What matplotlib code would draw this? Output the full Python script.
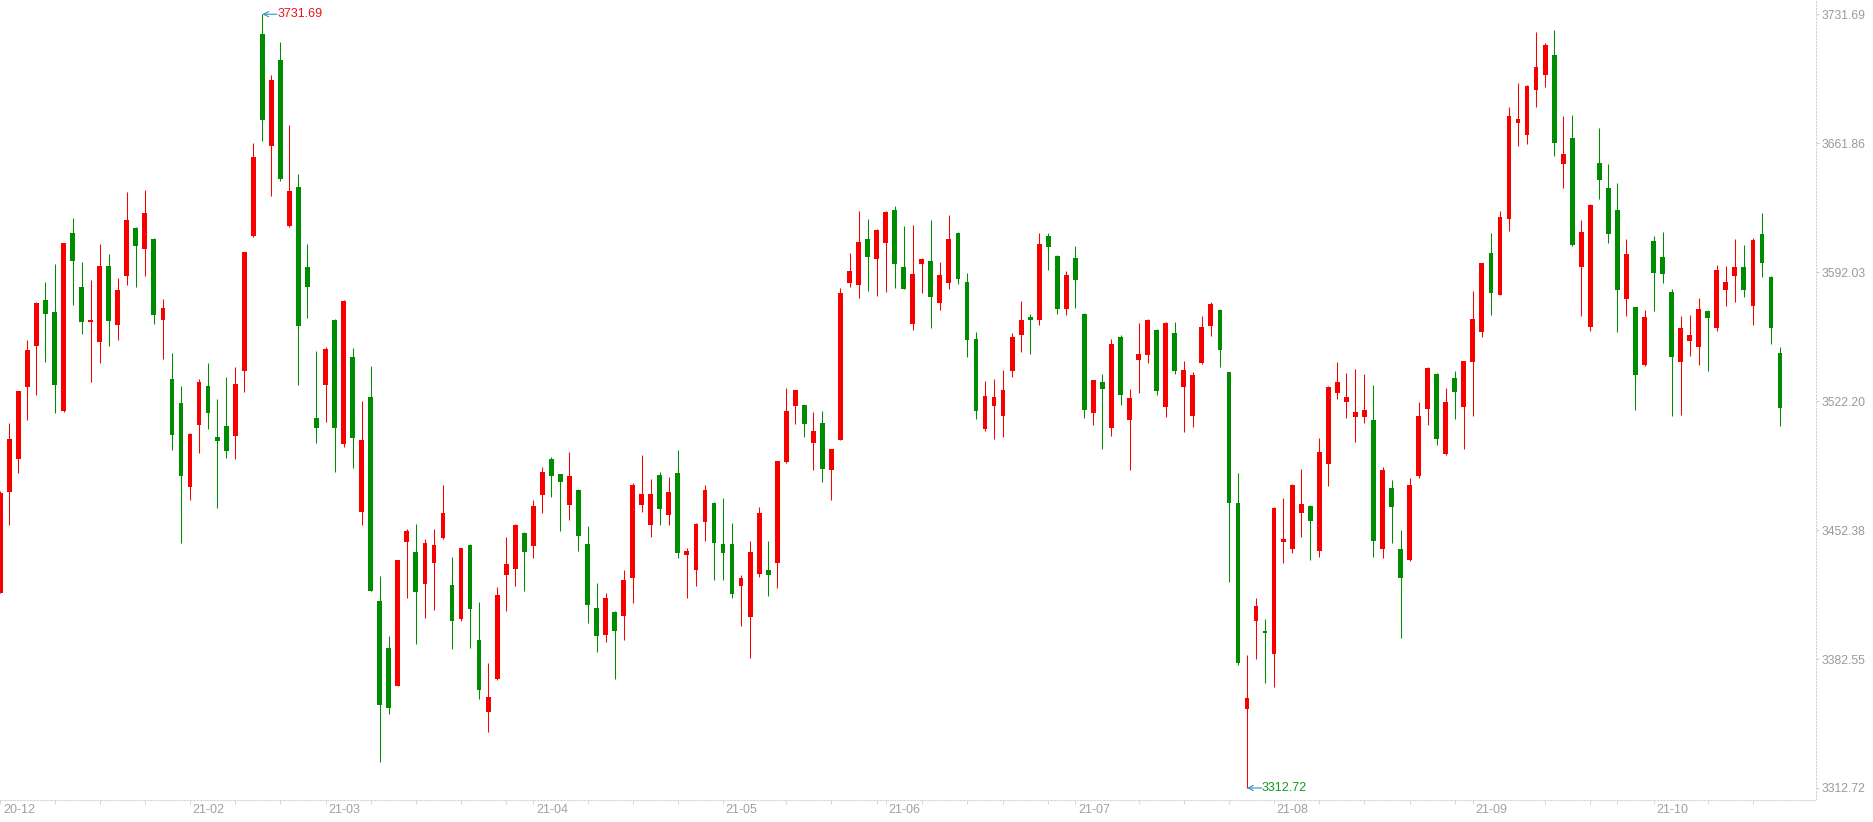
import matplotlib
matplotlib.use("Agg")
import matplotlib.pyplot as plt
import numpy as np

plt.rcParams['font.family'] = ['Liberation Sans', 'DejaVu Sans']

opens = [3418.2, 3473.2, 3490.8, 3530.1, 3551.8, 3577.1, 3570.6, 3517.0, 3613.0, 3583.9,
 3565.3, 3554.0, 3595.6, 3563.2, 3589.9, 3616.1, 3604.4, 3610.1, 3566.3, 3534.1,
 3521.0, 3475.5, 3509.3, 3530.4, 3502.5, 3508.5, 3503.4, 3538.4, 3611.8, 3720.9,
 3660.5, 3706.9, 3617.0, 3638.3, 3595.0, 3513.3, 3530.7, 3566.3, 3498.8, 3546.1,
 3462.1, 3524.4, 3413.9, 3388.6, 3368.1, 3445.9, 3440.7, 3423.1, 3434.5, 3448.1,
 3422.8, 3404.3, 3444.4, 3392.9, 3353.6, 3371.6, 3427.9, 3431.3, 3451.0, 3443.6,
 3471.5, 3490.6, 3482.6, 3466.1, 3474.3, 3445.0, 3410.3, 3395.5, 3408.0, 3405.7,
 3426.2, 3466.1, 3455.0, 3482.0, 3460.7, 3483.2, 3438.7, 3430.8, 3456.7, 3467.2,
 3445.0, 3445.0, 3421.9, 3405.2, 3428.5, 3431.0, 3434.5, 3489.1, 3519.6, 3519.9,
 3499.7, 3510.2, 3484.9, 3501.4, 3585.9, 3584.8, 3610.1, 3599.0, 3607.6, 3625.8,
 3595.0, 3564.0, 3596.2, 3598.2, 3575.4, 3586.2, 3613.3, 3586.8, 3555.7, 3507.1,
 3519.3, 3513.9, 3538.4, 3558.0, 3567.7, 3566.3, 3611.8, 3601.0, 3572.0, 3599.9,
 3569.4, 3515.9, 3532.4, 3507.4, 3556.8, 3511.7, 3544.6, 3546.9, 3560.8, 3518.8,
 3559.1, 3530.1, 3514.2, 3542.6, 3563.1, 3571.6, 3537.8, 3467.1, 3355.3, 3403.3,
 3397.6, 3385.1, 3446.1, 3442.1, 3461.5, 3465.4, 3441.3, 3488.4, 3526.7, 3521.9,
 3513.7, 3513.7, 3512.0, 3441.9, 3475.1, 3442.1, 3436.2, 3481.6, 3517.7, 3536.9,
 3493.8, 3534.7, 3518.8, 3543.5, 3559.4, 3602.2, 3579.8, 3621.0, 3672.9, 3666.4,
 3690.8, 3699.0, 3709.5, 3650.8, 3664.7, 3594.6, 3562.5, 3651.1, 3637.4, 3625.5,
 3577.3, 3573.0, 3541.5, 3608.8, 3600.3, 3581.2, 3543.2, 3554.5, 3551.7, 3571.0,
 3561.9, 3582.6, 3589.7, 3594.9, 3573.8, 3612.8, 3589.5, 3548.3]

highs = [3473.5, 3510.2, 3527.6, 3555.2, 3575.8, 3586.8, 3596.5, 3607.9, 3621.5, 3597.6,
 3587.9, 3607.3, 3601.9, 3589.1, 3635.2, 3616.5, 3636.3, 3610.5, 3577.7, 3548.4,
 3530.4, 3504.8, 3534.4, 3542.9, 3523.3, 3535.2, 3540.7, 3603.0, 3661.7, 3731.69,
 3698.7, 3716.6, 3671.6, 3644.9, 3607.3, 3549.2, 3551.5, 3566.6, 3576.8, 3550.9,
 3522.1, 3541.2, 3427.6, 3395.2, 3436.2, 3452.7, 3455.8, 3447.3, 3452.7, 3476.9,
 3437.9, 3442.7, 3444.7, 3413.4, 3380.4, 3421.7, 3448.4, 3455.8, 3451.3, 3468.4,
 3486.3, 3492.0, 3482.9, 3494.5, 3474.6, 3454.4, 3423.9, 3418.5, 3408.3, 3431.0,
 3477.7, 3492.8, 3479.8, 3483.7, 3480.9, 3495.7, 3442.4, 3456.1, 3476.6, 3467.5,
 3469.5, 3456.4, 3428.2, 3446.7, 3464.6, 3446.4, 3490.0, 3529.3, 3528.4, 3520.2,
 3516.2, 3516.8, 3496.5, 3583.7, 3602.4, 3625.2, 3621.0, 3615.2, 3624.9, 3628.1,
 3617.2, 3617.8, 3599.6, 3620.4, 3597.6, 3623.2, 3613.6, 3591.6, 3559.7, 3533.0,
 3534.1, 3538.9, 3559.2, 3576.5, 3569.4, 3613.3, 3613.3, 3601.3, 3592.5, 3606.4,
 3569.7, 3533.8, 3536.7, 3556.0, 3558.0, 3528.7, 3564.5, 3566.8, 3561.1, 3565.1,
 3565.1, 3543.8, 3537.8, 3568.2, 3575.8, 3571.9, 3538.1, 3483.3, 3384.8, 3415.5,
 3404.1, 3464.6, 3470.0, 3477.1, 3485.3, 3465.7, 3502.0, 3530.2, 3543.5, 3537.2,
 3539.5, 3536.9, 3531.0, 3486.4, 3479.3, 3452.3, 3480.8, 3521.6, 3540.4, 3537.2,
 3529.3, 3538.4, 3544.1, 3581.8, 3597.2, 3613.3, 3625.2, 3681.2, 3694.5, 3693.1,
 3722.0, 3716.0, 3723.2, 3676.6, 3677.2, 3620.1, 3628.9, 3670.1, 3650.5, 3640.3,
 3609.9, 3573.3, 3571.6, 3611.6, 3613.6, 3582.9, 3568.2, 3568.7, 3578.1, 3571.3,
 3596.0, 3595.4, 3609.9, 3606.8, 3610.5, 3624.1, 3589.8, 3551.4]

lows = [3418.2, 3455.3, 3483.2, 3512.2, 3525.6, 3543.5, 3515.9, 3516.5, 3574.5, 3558.6,
 3532.7, 3542.9, 3551.8, 3555.5, 3584.8, 3584.2, 3590.2, 3563.7, 3545.2, 3495.9,
 3445.3, 3468.6, 3494.3, 3507.1, 3464.4, 3491.4, 3490.8, 3527.3, 3611.3, 3663.1,
 3633.2, 3641.5, 3616.5, 3530.7, 3567.4, 3499.6, 3511.1, 3484.0, 3497.4, 3486.0,
 3454.9, 3419.3, 3326.6, 3353.0, 3367.8, 3415.7, 3390.9, 3404.6, 3408.9, 3447.8,
 3387.8, 3402.9, 3388.3, 3360.7, 3343.1, 3371.3, 3408.3, 3421.9, 3419.4, 3437.0,
 3461.5, 3470.3, 3451.8, 3457.8, 3441.0, 3402.3, 3386.1, 3391.5, 3371.6, 3392.6,
 3412.8, 3462.1, 3448.7, 3455.0, 3455.0, 3437.0, 3415.7, 3421.9, 3446.4, 3425.4,
 3425.4, 3415.4, 3400.6, 3383.2, 3427.1, 3416.8, 3420.8, 3488.6, 3509.9, 3502.8,
 3484.9, 3478.3, 3468.6, 3501.1, 3583.9, 3578.2, 3581.6, 3579.1, 3581.1, 3583.7,
 3582.8, 3560.6, 3580.8, 3561.7, 3571.7, 3583.1, 3585.7, 3546.1, 3512.5, 3505.9,
 3501.7, 3502.8, 3535.2, 3548.9, 3547.8, 3563.4, 3593.3, 3569.4, 3568.6, 3572.8,
 3513.0, 3509.1, 3496.0, 3503.4, 3520.2, 3484.7, 3526.7, 3542.6, 3525.3, 3513.7,
 3536.9, 3505.7, 3508.0, 3542.3, 3557.7, 3540.9, 3424.0, 3379.4, 3312.72, 3382.3,
 3369.8, 3367.2, 3434.8, 3440.2, 3448.7, 3436.2, 3437.9, 3476.2, 3523.6, 3512.8,
 3500.0, 3510.6, 3437.6, 3437.0, 3445.3, 3394.2, 3435.6, 3480.5, 3509.4, 3498.6,
 3492.9, 3512.3, 3496.1, 3514.3, 3557.1, 3569.0, 3579.5, 3614.5, 3660.4, 3661.6,
 3681.2, 3692.5, 3654.8, 3637.7, 3606.2, 3568.5, 3560.0, 3631.8, 3607.6, 3559.4,
 3568.5, 3517.6, 3541.2, 3571.0, 3586.1, 3514.2, 3514.8, 3546.6, 3541.8, 3538.7,
 3560.0, 3573.8, 3576.1, 3578.4, 3563.6, 3589.2, 3552.9, 3508.8]

closes = [3472.3, 3501.7, 3527.6, 3549.8, 3575.4, 3569.1, 3530.7, 3607.9, 3597.9, 3564.9,
 3566.2, 3595.6, 3565.4, 3582.5, 3620.4, 3606.1, 3623.8, 3568.6, 3572.5, 3503.9,
 3481.7, 3504.2, 3532.8, 3515.6, 3500.8, 3495.4, 3531.3, 3603.0, 3654.5, 3674.5,
 3695.8, 3642.2, 3635.8, 3563.1, 3584.2, 3507.6, 3550.3, 3507.4, 3576.5, 3502.2,
 3501.1, 3419.6, 3357.9, 3356.2, 3435.9, 3452.1, 3418.8, 3445.6, 3444.4, 3461.8,
 3402.9, 3442.4, 3409.9, 3365.6, 3361.9, 3417.4, 3434.2, 3455.3, 3440.5, 3465.2,
 3483.7, 3481.7, 3478.3, 3481.4, 3449.0, 3411.7, 3394.9, 3415.7, 3397.5, 3425.4,
 3476.6, 3471.8, 3471.8, 3463.8, 3473.2, 3439.9, 3441.3, 3455.8, 3473.8, 3445.3,
 3439.9, 3417.7, 3426.5, 3440.7, 3461.8, 3427.9, 3489.7, 3516.8, 3528.1, 3509.9,
 3505.9, 3485.4, 3496.0, 3580.8, 3592.8, 3608.4, 3600.2, 3614.9, 3624.4, 3596.2,
 3583.1, 3591.1, 3599.0, 3578.5, 3590.5, 3610.1, 3588.5, 3555.2, 3516.8, 3525.0,
 3524.4, 3528.1, 3556.9, 3566.0, 3566.0, 3607.0, 3605.6, 3572.3, 3590.5, 3587.6,
 3517.6, 3533.5, 3529.0, 3553.2, 3525.3, 3523.9, 3547.7, 3566.2, 3527.9, 3564.5,
 3538.7, 3538.9, 3536.4, 3562.2, 3574.7, 3550.0, 3466.8, 3380.3, 3361.5, 3411.0,
 3396.7, 3464.3, 3447.5, 3476.8, 3466.6, 3457.5, 3494.7, 3529.9, 3532.4, 3524.5,
 3516.2, 3517.4, 3446.7, 3484.7, 3465.1, 3426.5, 3476.8, 3514.0, 3540.1, 3501.5,
 3521.6, 3527.3, 3543.8, 3566.5, 3596.9, 3580.9, 3621.8, 3676.6, 3674.9, 3692.8,
 3703.0, 3714.9, 3662.1, 3655.9, 3606.5, 3613.6, 3628.4, 3641.7, 3612.5, 3582.1,
 3601.7, 3536.1, 3567.6, 3591.7, 3591.2, 3546.3, 3561.7, 3558.0, 3572.2, 3567.3,
 3593.2, 3586.6, 3594.9, 3582.1, 3609.3, 3597.1, 3561.9, 3518.2]

month_tick_idx = [0, 21, 36, 59, 80, 98, 119, 141, 163, 183]
month_labels = ['20-12', '21-02', '21-03', '21-04', '21-05', '21-06', '21-07', '21-08', '21-09', '21-10']
week_tick_idx = [6, 11, 16, 26, 31, 41, 46, 51, 56, 65, 70, 75, 87, 92, 97, 102, 107, 111, 116,
                 126, 131, 136, 146, 151, 156, 161, 171, 176, 179, 189, 194]
y_ticks = [3312.72, 3382.55, 3452.38, 3522.20, 3592.03, 3661.86, 3731.69]

UP = '#f70000'
DOWN = '#008c00'

W, H = 1873, 822
fig = plt.figure(figsize=(W / 100, H / 100), dpi=100)
ax_right_px, ax_bottom_px = 1815.7, 799.5
ax = fig.add_axes([0, (H - ax_bottom_px) / H, ax_right_px / W, ax_bottom_px / H])

o = np.array(opens); h = np.array(highs); l = np.array(lows); c = np.array(closes)
x = np.arange(len(o))
up = c >= o
cols = np.where(up, UP, DOWN)

ax.vlines(x, l, h, colors=cols, linewidth=0.75, zorder=2)
body_bottom = np.minimum(o, c)
body_h = np.maximum(np.abs(c - o), 0.7)
ax.bar(x, body_h, bottom=body_bottom, width=0.53, color=cols, linewidth=0, zorder=3)

ax.set_xlim(-0.033, 200.95)
ax.set_ylim(3306.49, 3739.38)

for s in ['left', 'top']:
    ax.spines[s].set_visible(False)
ax.spines['bottom'].set_color('#d9d9d9')
ax.spines['bottom'].set_linestyle((0, (1.5, 1.5)))
ax.spines['bottom'].set_linewidth(0.8)
ax.spines['right'].set_color('#cfcfcf')
ax.spines['right'].set_linestyle((0, (1, 2)))
ax.spines['right'].set_linewidth(0.8)

ax.yaxis.tick_right()
ax.set_yticks(y_ticks)
ax.set_yticklabels([f'{v:.2f}' for v in y_ticks])
ax.tick_params(axis='y', which='major', direction='out', length=2.2, width=0.7,
               color='#cccccc', pad=1.9, labelsize=8.7, labelcolor='#9a9a9a')

ax.set_xticks(month_tick_idx)
ax.set_xticks(week_tick_idx, minor=True)
ax.set_xticklabels([])
ax.tick_params(axis='x', which='both', direction='out', length=3.0, width=0.7, color='#d6d6d6')

for i, lab in zip(month_tick_idx, month_labels):
    ax.annotate(lab, xy=(i, 0), xycoords=('data', 'axes fraction'),
                xytext=(1.9, -7.6), textcoords='offset points',
                ha='left', va='center', fontsize=9.0, color='#a0a0a0', annotation_clip=False)

imax = int(np.argmax(h)); imin = int(np.argmin(l))
ARROW = '#2f94c4'
for idx, val, tcol in [(imax, h[imax], '#e8141c'), (imin, l[imin], '#149a1c')]:
    ax.annotate('', xy=(idx, val), xytext=(10.4, 0), textcoords='offset points',
                arrowprops=dict(arrowstyle='->', color=ARROW, lw=0.8, shrinkA=0, shrinkB=0,
                                mutation_scale=9), annotation_clip=False)
    ax.annotate(f'{val:.2f}', xy=(idx, val), xytext=(10.8, 0), textcoords='offset points',
                ha='left', va='center', fontsize=9.0, color=tcol, annotation_clip=False)

fig.savefig('out.png', dpi=100, facecolor='white')
